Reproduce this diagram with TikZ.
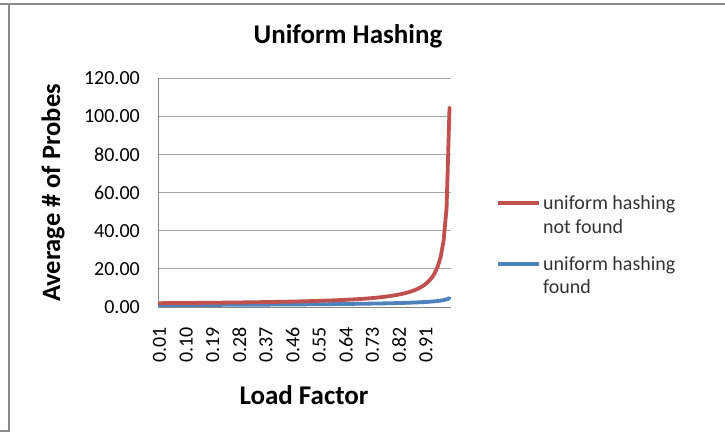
\documentclass[tikz,border=0pt]{standalone}
\usepackage{fontspec}
\setmainfont{Carlito}
\definecolor{exred}{HTML}{C0504D}
\definecolor{exblue}{HTML}{4F81BD}
\definecolor{gridgray}{HTML}{A6A6A6}
\definecolor{axisgray}{HTML}{868686}
\definecolor{framegray}{HTML}{8C8C8C}
\begin{document}
\begin{tikzpicture}[x=1pt,y=-1pt,
  ticklabel/.style={font=\fontsize{20}{23}\selectfont, inner sep=0pt},
  axtitle/.style={font=\fontsize{27}{30}\selectfont\bfseries, inner sep=0pt},
  legtext/.style={font=\fontsize{20}{23}\selectfont, text=black!80, inner sep=0pt, anchor=base west},
  series/.style={line width=3.8pt, line cap=round, line join=round}]
\useasboundingbox (0,0) rectangle (725,432);
\fill[white] (0,0) rectangle (725,432);
% frame
\coordinate (ftl) at (0,3.5);
\coordinate (ftr) at (725,3.5);
\coordinate (fv) at (8.5,3.5);
\coordinate (fb) at (8.5,431);
\coordinate (fbl) at (0,431);
\draw[framegray, line width=2pt] (ftl) -- (ftr);
\draw[framegray, line width=2pt] (fv) -- (fb) -- (fbl);
% title
\node[axtitle, anchor=base] (title) at (348,43.3) {Uniform Hashing};
% gridlines and y tick labels
\foreach \v/\lab in {0/0.00,20/20.00,40/40.00,60/60.00,80/80.00,100/100.00,120/120.00}{
  \pgfmathsetmacro{\yy}{307-\v*1.90833}
  \ifnum\v>0
    \draw[gridgray, line width=1pt] (158,\yy) -- (451,\yy);
  \fi
  \node[ticklabel, anchor=east] (yl\v) at (140,\yy) {\lab};
}
% axes
\coordinate (o) at (158,307);
\coordinate (ytop) at (158,78);
\coordinate (xend) at (451,307);
\draw[axisgray, line width=1pt] (ytop) -- (o) -- (xend);
% x tick labels
\foreach \k/\lab in {0/0.01,1/0.10,2/0.19,3/0.28,4/0.37,5/0.46,6/0.55,7/0.64,8/0.73,9/0.82,10/0.91}{
  \pgfmathsetmacro{\xx}{158+(9*\k+0.5)*2.9596}
  \node[ticklabel, rotate=90, anchor=east] (xl\k) at (\xx,327) {\lab};
}
% series
\draw[series, exblue] plot[domain=1:99, samples=99]
  ({158+(\x-0.5)*2.9596}, {307-1.90833*(100/\x)*ln(100/(100-\x))});
\draw[series, exred] plot[domain=1:99, samples=99]
  ({158+(\x-0.5)*2.9596}, {307-1.90833*(100/(100.0-\x-0.034)+1)});
% axis titles
\node[axtitle, anchor=base] (xtitle) at (304,404) {Load Factor};
\node[axtitle, rotate=90, anchor=base, font=\fontsize{26.5}{30}\selectfont\bfseries] (ytitle) at (60,193) {Average \# of Probes};
% legend
\coordinate (lr1) at (498,203);
\coordinate (lr2) at (539,203);
\coordinate (lb1) at (498,264);
\coordinate (lb2) at (539,264);
\draw[exred, line width=3.8pt] (lr1) -- (lr2);
\draw[exblue, line width=3.8pt] (lb1) -- (lb2);
\node[legtext] (l1a) at (543,209.3) {uniform hashing};
\node[legtext] (l1b) at (543,233.3) {not found};
\node[legtext] (l2a) at (543,270) {uniform hashing};
\node[legtext] (l2b) at (543,293.3) {found};
\end{tikzpicture}
\end{document}
